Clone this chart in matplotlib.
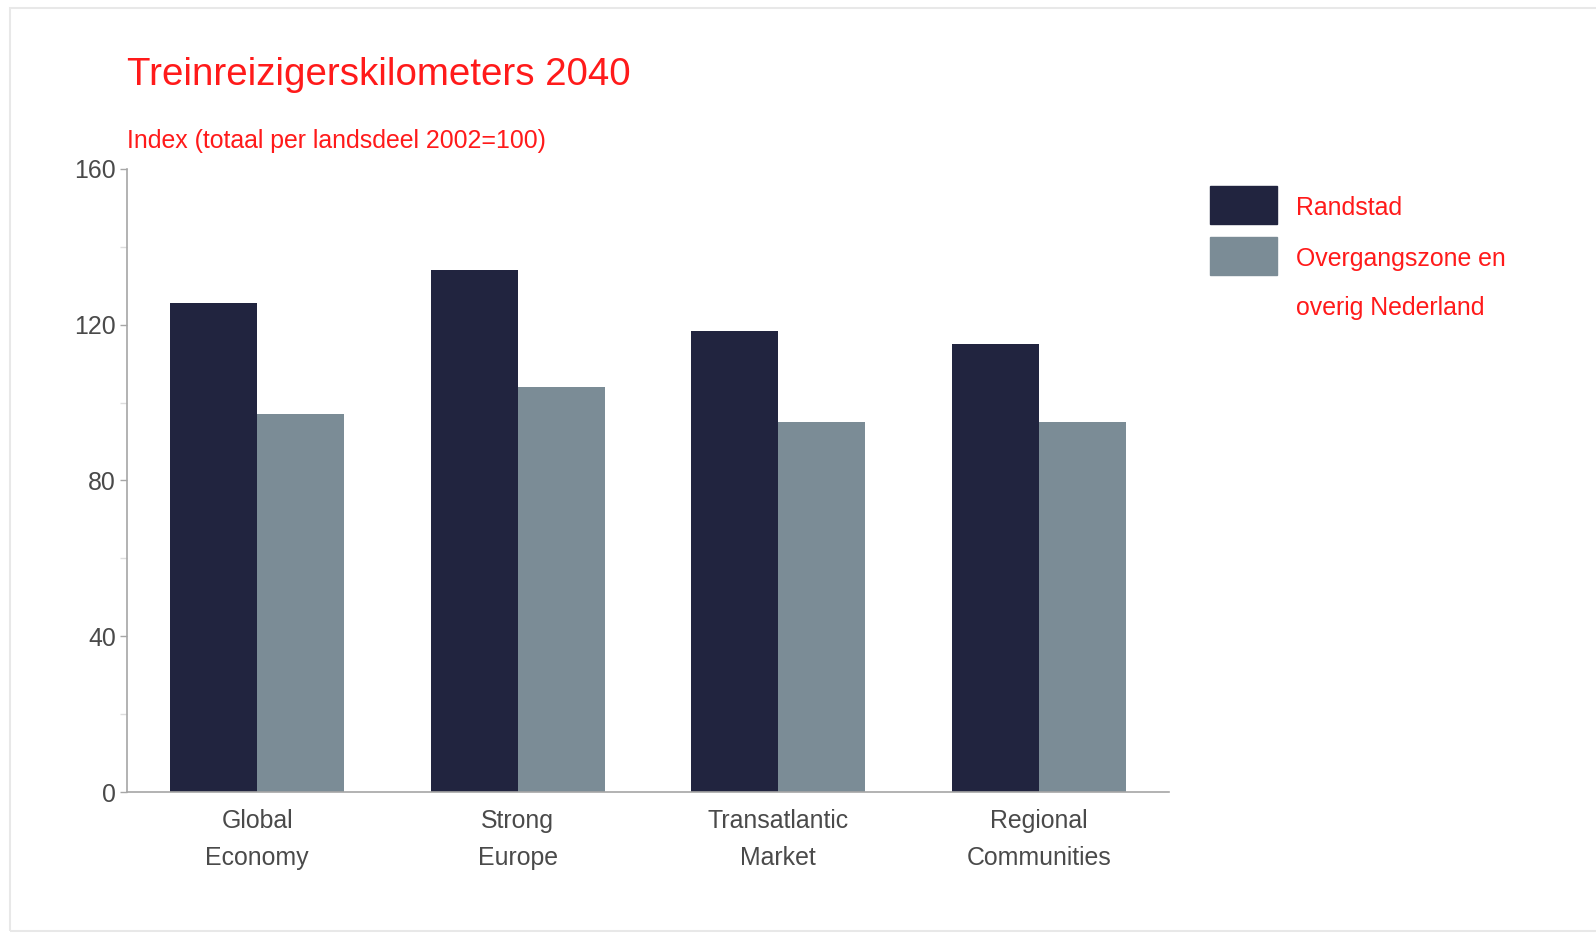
import matplotlib.pyplot as plt
import numpy as np
from matplotlib import font_manager
from matplotlib.patches import Rectangle

# Index values per scenario (2002 = 100)
scenarios = ['Global\nEconomy', 'Strong\nEurope', 'Transatlantic\nMarket', 'Regional\nCommunities']
randstad = [125.5, 134.0, 118.5, 115.0]
overig = [97.0, 104.0, 95.0, 95.0]
series_names = ['Randstad', 'Overgangszone en\noverig Nederland']
colors = ['#21243f', '#7b8c96']

RED = '#ff1a1a'
GREY_TEXT = '#4a4a4a'

# prefer a condensed face if it is around
names = {f.name for f in font_manager.fontManager.ttflist}
if 'Liberation Sans Narrow' in names:
    FONT = 'Liberation Sans Narrow'
    title_size, text_size = 33.5, 21.5
else:
    FONT = 'Liberation Sans'
    title_size, text_size = 27.7, 17.9
plt.rcParams['font.family'] = [FONT, 'DejaVu Sans']

W, H = 1596, 933
fig = plt.figure(figsize=(W / 100, H / 100), dpi=100)
ax = fig.add_axes([127 / W, 1 - 792 / H, 1042 / W, 623 / H])

x = np.arange(len(scenarios))
width = 1 / 3
ax.bar(x - width / 2, randstad, width, color=colors[0], label=series_names[0])
ax.bar(x + width / 2, overig, width, color=colors[1], label=series_names[1])

ax.set_xlim(-0.5, len(scenarios) - 0.5)
ax.set_ylim(0, 160)
ax.set_yticks([0, 40, 80, 120, 160])
ax.set_yticks([20, 60, 100, 140], minor=True)
ax.set_xticks(x)
ax.set_xticklabels(scenarios, fontsize=text_size, color=GREY_TEXT, linespacing=1.7)

for side in ['top', 'right']:
    ax.spines[side].set_visible(False)
for side in ['left', 'bottom']:
    ax.spines[side].set_color('#a6a6a6')
    ax.spines[side].set_linewidth(1.2)

ax.tick_params(axis='y', which='major', length=5, width=1, color='#a6a6a6',
               labelsize=text_size, labelcolor=GREY_TEXT, pad=3)
ax.tick_params(axis='y', which='minor', length=5, width=1, color='#dddddd')
ax.tick_params(axis='x', length=0, pad=12)

# title and subtitle
fig.text(127 / W, 1 - 75 / H, 'Treinreizigerskilometers 2040', color=RED,
         fontsize=title_size, va='center', ha='left')
fig.text(127 / W, 1 - 141 / H, 'Index (totaal per landsdeel 2002=100)', color=RED,
         fontsize=text_size, va='center', ha='left')

# legend drawn by hand: colour blocks with red labels, one text per line
box_x, box_w, box_h = 1210, 67, 38
box_tops = [186, 237]
line_step = 49
for top, col, name in zip(box_tops, colors, series_names):
    fig.patches.append(Rectangle((box_x / W, 1 - (top + box_h) / H), box_w / W, box_h / H,
                                 transform=fig.transFigure, color=col))
    for j, line in enumerate(name.split('\n')):
        fig.text(1296 / W, 1 - (top + 22 + j * line_step) / H, line, color=RED,
                 fontsize=text_size, va='center', ha='left')

# faint frame round the chart
fig.patches.append(Rectangle((10 / W, 1 - 931 / H), 1.1, 923 / H, transform=fig.transFigure,
                             fill=False, edgecolor='#e8e8e8', linewidth=1.5))

fig.savefig('out.png', dpi=100)
